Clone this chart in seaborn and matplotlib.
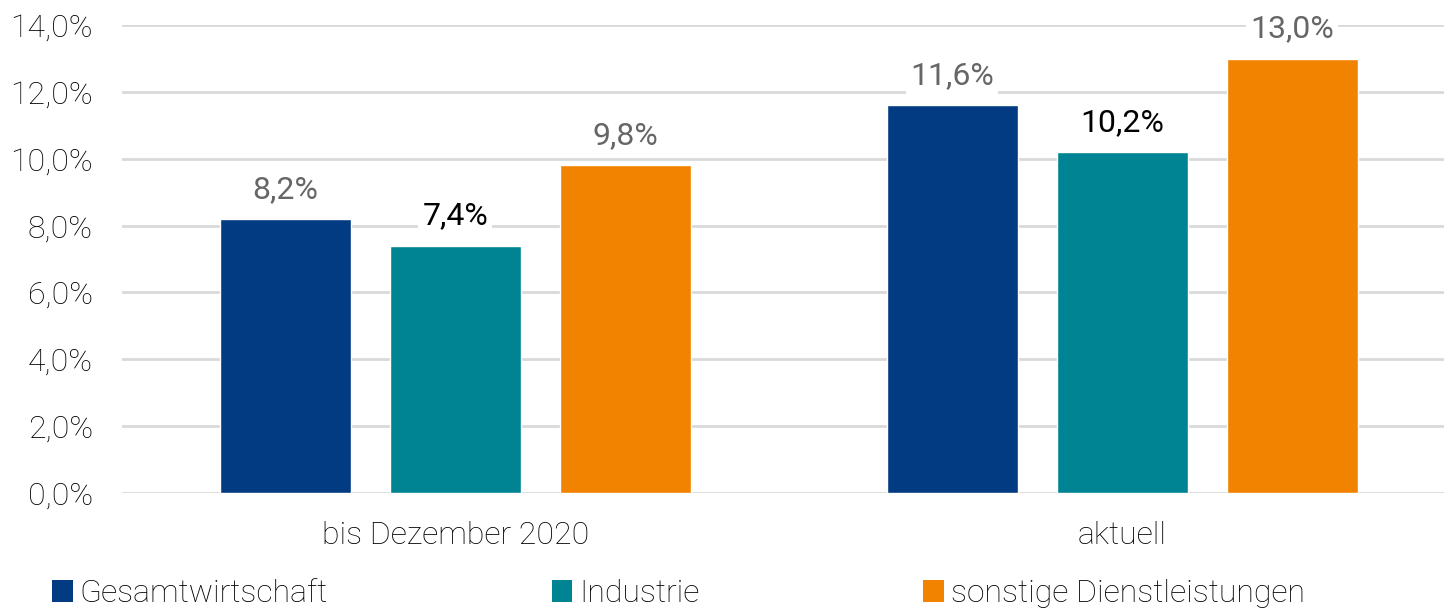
import pandas as pd
import seaborn as sns
import matplotlib.pyplot as plt
from matplotlib.patches import Patch

# Data
zeitraum = ["bis Dezember 2020", "aktuell"]
sektoren = ["Gesamtwirtschaft", "Industrie", "sonstige Dienstleistungen"]
gesamt = [8.2, 11.6]
industrie = [7.4, 10.2]
dienstleistungen = [9.8, 13.0]
yticks = [0, 2, 4, 6, 8, 10, 12, 14]

farben = ["#023B82", "#008493", "#F18300"]
label_farben = ["#666666", "#000000", "#666666"]

df = pd.DataFrame({
    "Zeitraum": zeitraum * 3,
    "Sektor": [s for s in sektoren for _ in zeitraum],
    "Wert": gesamt + industrie + dienstleistungen,
})

sns.set_theme(style="white")
plt.rcParams["font.family"] = ["Roboto", "DejaVu Sans"]
plt.rcParams["font.weight"] = "light"

fig = plt.figure(figsize=(14.44, 6.12), dpi=100)
ax = fig.add_axes([0.0845, 0.1944, 0.9235, 0.7646])

sns.barplot(data=df, x="Zeitraum", y="Wert", hue="Sektor", hue_order=sektoren,
            order=zeitraum, palette=farben, width=0.765, gap=0.23,
            saturation=1, ax=ax, legend=False, zorder=3)

ax.set_ylim(0, 14)
ax.set_xlim(-0.5, 1.5)
ax.set_yticks(yticks)
ax.set_yticklabels([f"{v:.1f}%".replace(".", ",") for v in yticks])
ax.yaxis.grid(True, color="#d9d9d9", linewidth=2)
ax.set_axisbelow(True)
for s in ax.spines.values():
    s.set_visible(False)
ax.set_xlabel("")
ax.set_ylabel("")
ax.tick_params(axis="y", labelsize=23, labelcolor="#000000", pad=21, length=0)
ax.tick_params(axis="x", labelsize=23, labelcolor="#000000", pad=20, length=0)

# Data labels
for cont, farbe in zip(ax.containers, label_farben):
    texts = ax.bar_label(cont, labels=[f"{b.get_height():.1f}%".replace(".", ",") for b in cont],
                         padding=11, fontsize=23, color=farbe, fontweight="regular")
    for t in texts:
        t.set_bbox(dict(facecolor="white", edgecolor="none", pad=3))

# Legend
handles = [Patch(facecolor=c, edgecolor="none") for c in farben]
fig.legend(handles, sektoren, loc="lower left", bbox_to_anchor=(0.036, 0.006),
           ncol=3, frameon=False, fontsize=23, handlelength=0.65, handleheight=0.65,
           handletextpad=0.22, columnspacing=7.0, labelcolor="#000000",
           borderpad=0, borderaxespad=0)

fig.savefig("out.png", dpi=100)
